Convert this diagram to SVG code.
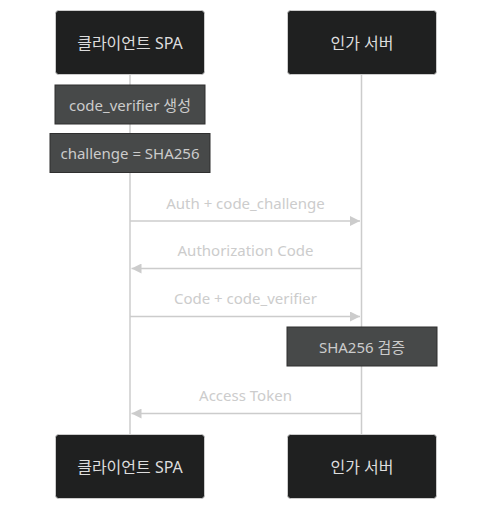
<svg xmlns="http://www.w3.org/2000/svg" width="487" height="510" viewBox="0 0 487 510">
<defs>
<style>
text{font-family:"Noto Sans","Noto Sans CJK KR",sans-serif;font-size:15px;text-anchor:middle;dominant-baseline:central}
.actor rect{fill:#1f2020;stroke:#cccccc;stroke-width:1}
.actor text{fill:#dddddd;font-size:16px}
.note rect{fill:#474949;stroke:#2f2f2f;stroke-width:1}
.note text{fill:#cccccc}
.life{stroke:#cccccc;stroke-width:1.5}
.msg line{stroke:#cccccc;stroke-width:1.5}
.msg text{fill:#cccccc}
</style>
<marker id="ah" viewBox="0 0 10 10" refX="10" refY="5" markerWidth="10" markerHeight="10" markerUnits="userSpaceOnUse" orient="auto">
<path d="M0,0 L10,5 L0,10 z" fill="#cccccc"/>
</marker>
</defs>
<rect width="487" height="510" fill="#ffffff"/>
<g id="lifelines">
<line class="life" x1="130" y1="74" x2="130" y2="434"/>
<line class="life" x1="361.5" y1="74" x2="361.5" y2="434"/>
</g>
<g id="actor-client-top" class="actor"><rect x="55.5" y="10.5" width="149" height="64" rx="3"/><text x="130" y="42.5">클라이언트 SPA</text></g>
<g id="actor-server-top" class="actor"><rect x="287.5" y="10.5" width="149" height="64" rx="3"/><text x="362" y="42.5">인가 서버</text></g>
<g id="note-verifier" class="note"><rect x="55" y="85" width="150" height="39"/><text x="130" y="104.5">code_verifier 생성</text></g>
<g id="note-challenge" class="note"><rect x="50" y="133.5" width="160" height="39"/><text x="130" y="153">challenge = SHA256</text></g>
<g id="note-verify" class="note"><rect x="287" y="327" width="150" height="39"/><text x="362" y="346.5">SHA256 검증</text></g>
<g id="connectors" class="msg">
<text x="245.5" y="202.5">Auth + code_challenge</text>
<line x1="130" y1="221" x2="360" y2="221" marker-end="url(#ah)"/>
<text x="245.5" y="250">Authorization Code</text>
<line x1="361.5" y1="268.5" x2="131.5" y2="268.5" marker-end="url(#ah)"/>
<text x="245.5" y="297.5">Code + code_verifier</text>
<line x1="130" y1="316.5" x2="360" y2="316.5" marker-end="url(#ah)"/>
<text x="245.5" y="395">Access Token</text>
<line x1="361.5" y1="413.5" x2="131.5" y2="413.5" marker-end="url(#ah)"/>
</g>
<g id="actor-client-bottom" class="actor"><rect x="55.5" y="434.5" width="149" height="64" rx="3"/><text x="130" y="466.5">클라이언트 SPA</text></g>
<g id="actor-server-bottom" class="actor"><rect x="287.5" y="434.5" width="149" height="64" rx="3"/><text x="362" y="466.5">인가 서버</text></g>
</svg>
